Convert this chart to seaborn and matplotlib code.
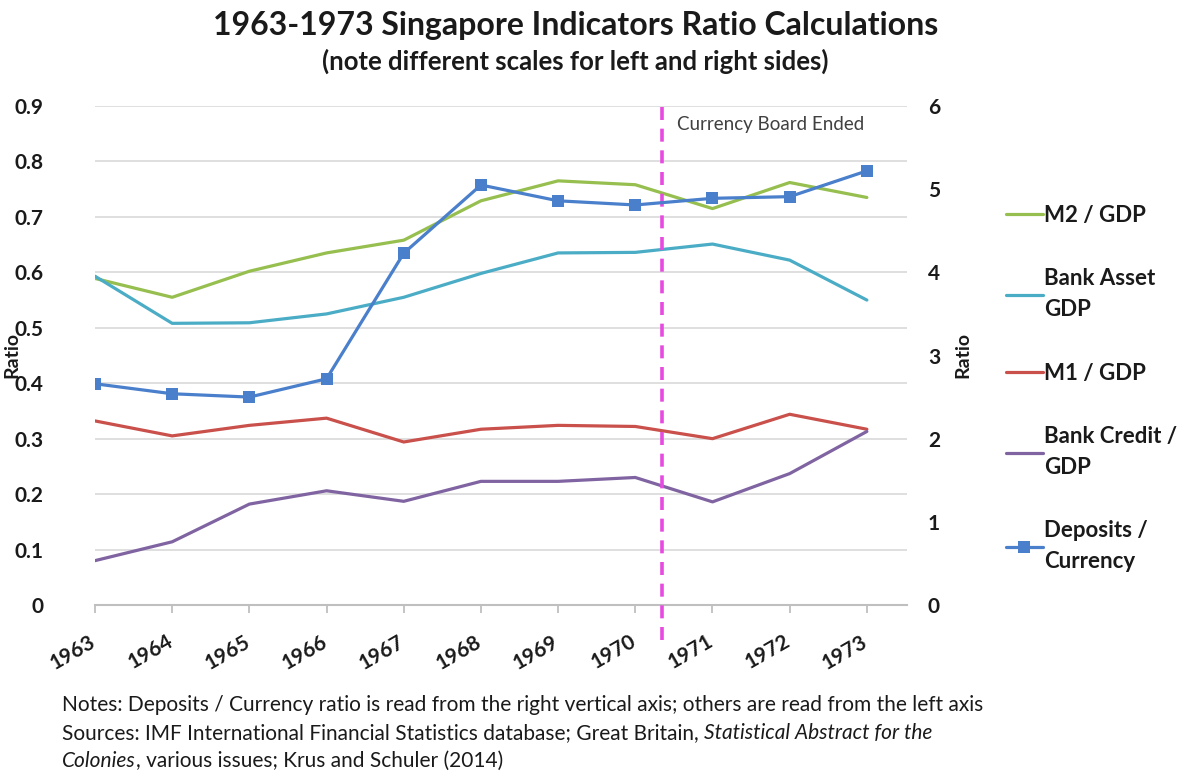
import numpy as np
import pandas as pd
import matplotlib
matplotlib.use("Agg")
import matplotlib.pyplot as plt
import matplotlib.transforms as mtransforms
import seaborn as sns

# ---------------- data ----------------
years = [1963, 1964, 1965, 1966, 1967, 1968, 1969, 1970, 1971, 1972, 1973]
m2_gdp = [0.589, 0.555, 0.602, 0.635, 0.658, 0.729, 0.765, 0.758, 0.715, 0.762, 0.735]
bank_asset_gdp = [0.593, 0.508, 0.509, 0.525, 0.555, 0.598, 0.635, 0.636, 0.651, 0.622, 0.550]
m1_gdp = [0.332, 0.305, 0.324, 0.337, 0.294, 0.317, 0.324, 0.322, 0.300, 0.344, 0.317]
bank_credit_gdp = [0.080, 0.114, 0.182, 0.206, 0.187, 0.223, 0.223, 0.230, 0.186, 0.237, 0.313]
deposits_currency = [2.66, 2.54, 2.50, 2.72, 4.23, 5.05, 4.86, 4.81, 4.89, 4.91, 5.22]

left_labels = ["M2 / GDP", "Bank Asset\nGDP", "M1 / GDP", "Bank Credit /\nGDP"]
right_label = "Deposits /\nCurrency"
left_ticks = [0, 0.1, 0.2, 0.3, 0.4, 0.5, 0.6, 0.7, 0.8, 0.9]
left_ticklabels = ["0", "0.1", "0.2", "0.3", "0.4", "0.5", "0.6", "0.7", "0.8", "0.9"]
right_ticks = [0, 1, 2, 3, 4, 5, 6]
board_end_year = 1970.35
board_label = "Currency Board Ended"

colors = {"M2 / GDP": "#96BF4F", "Bank Asset\nGDP": "#4BACC6",
          "M1 / GDP": "#C9504B", "Bank Credit /\nGDP": "#8064A2",
          right_label: "#4A7FCB"}

df_left = pd.DataFrame({
    "year": years * 4,
    "value": m2_gdp + bank_asset_gdp + m1_gdp + bank_credit_gdp,
    "series": sum([[lab] * len(years) for lab in left_labels], []),
})
df_right = pd.DataFrame({"year": years, "value": deposits_currency,
                         "series": [right_label] * len(years)})

# ---------------- style ----------------
sns.set_theme(style="white")
plt.rcParams["font.family"] = ["Lato", "DejaVu Sans"]
TXT = "#1a1a1a"

fig = plt.figure(figsize=(11.91, 7.75), dpi=100)
ax = fig.add_axes([95 / 1191, 1 - 605 / 775, (907 - 95) / 1191, (605 - 106) / 775])
ax2 = ax.twinx()

sns.lineplot(data=df_left, x="year", y="value", hue="series", hue_order=left_labels,
             palette=colors, linewidth=2.3, ax=ax, legend=False, zorder=3)
sns.lineplot(data=df_right, x="year", y="value", hue="series", palette=colors,
             marker="s", markersize=9, markeredgewidth=0, linewidth=2.3,
             ax=ax2, legend=False, zorder=3)

ax.set_xlim(1963, 1973.52)
ax.set_ylim(0, 0.9)
ax2.set_ylim(0, 6)

# grid
for t in left_ticks[1:]:
    ax.axhline(t, color="#d9d9d9", lw=1.2, zorder=0)

for a in (ax, ax2):
    for s in ("top", "left", "right", "bottom"):
        a.spines[s].set_visible(False)
    a.grid(False)
ax.spines["bottom"].set_visible(True)
ax.spines["bottom"].set_color("#bfbfbf")
ax.spines["bottom"].set_linewidth(1.5)

ax.set_xticks(years)
ax.set_xticklabels([str(y) for y in years], rotation=30, ha="right", va="top",
                   fontsize=15, fontweight="bold", color=TXT)
ax.tick_params(axis="x", bottom=True, length=6, width=1.3, color="#bfbfbf", pad=13)
shift = mtransforms.ScaledTranslation(4 / 100, 0, fig.dpi_scale_trans)
for lab in ax.get_xticklabels():
    lab.set_transform(lab.get_transform() + shift)

ax.set_yticks(left_ticks)
ax.set_yticklabels(left_ticklabels, fontsize=15, fontweight="bold", color=TXT)
ax.tick_params(axis="y", left=False, pad=31)
ax2.set_yticks(right_ticks)
ax2.set_yticklabels([str(t) for t in right_ticks], fontsize=15, fontweight="bold", color=TXT)
ax2.tick_params(axis="y", right=False, pad=9)

ax.set_xlabel("")
ax.set_ylabel("Ratio", fontsize=14, fontweight="bold", color=TXT)
ax.yaxis.set_label_coords((20 - 95) / 812, 0.5)
ax2.set_ylabel("Ratio", fontsize=14, fontweight="bold", color=TXT, rotation=90)
ax2.yaxis.set_label_coords((954 - 95) / 812, 0.5)

# currency board ended marker
ax.vlines(board_end_year, -0.064, 0.91, colors="#E64AE0", linewidth=2.6,
          linestyles=(0, (3.6, 2.4)), clip_on=False, zorder=6)
ax.text(board_end_year + 0.19, 0.866, board_label, fontsize=13.5, color="#404040",
        va="center", ha="left")

# legend
handles = [ax.lines[i] for i in range(4)] + [ax2.lines[0]]
labels = left_labels + [right_label]
leg = fig.legend(handles, labels, loc="upper left", bbox_to_anchor=(986 / 1191, 1 - 185 / 775),
                 frameon=False, handlelength=1.65, handletextpad=0.05,
                 labelspacing=1.9, prop={"weight": "bold", "size": 16})
for t in leg.get_texts():
    t.set_color(TXT)
    t.set_linespacing(1.6)

# titles
fig.text(0.4836, 1 - 25 / 775, "1963-1973 Singapore Indicators Ratio Calculations",
         ha="center", va="center", fontsize=23, fontweight="bold", color=TXT)
fig.text(0.483, 1 - 61 / 775, "(note different scales for left and right sides)",
         ha="center", va="center", fontsize=18.5, fontweight="bold", color=TXT)

# notes
nx = 62 / 1191
fs = 15
n1 = fig.text(nx, 1 - 705 / 775,
              "Notes: Deposits / Currency ratio is read from the right vertical axis; others are read from the left axis",
              ha="left", va="center", fontsize=fs, color=TXT)
n2 = fig.text(nx, 1 - 733 / 775,
              "Sources: IMF International Financial Statistics database; Great Britain, ",
              ha="left", va="center", fontsize=fs, color=TXT)
ax.annotate("Statistical Abstract for the", xy=(1, 0), xycoords=n2, ha="left", va="bottom",
            fontsize=fs, color=TXT, style="italic", annotation_clip=False)
n3 = fig.text(nx, 1 - 761 / 775, "Colonies", ha="left", va="center", fontsize=fs,
              color=TXT, style="italic")
ax.annotate(", various issues; Krus and Schuler (2014)", xy=(1, 0), xycoords=n3,
            ha="left", va="bottom", fontsize=fs, color=TXT, annotation_clip=False)

fig.savefig("out.png", dpi=100)
